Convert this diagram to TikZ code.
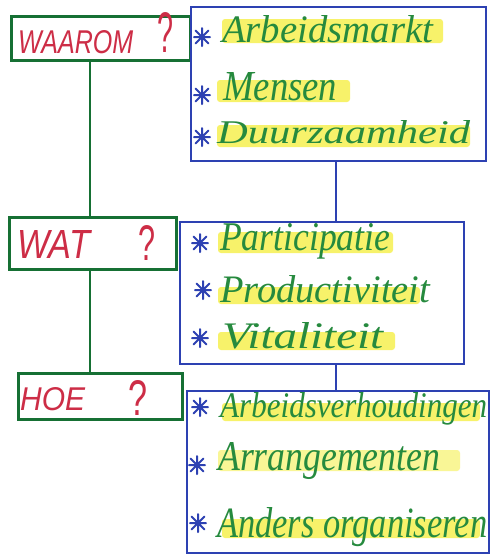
\documentclass[tikz,border=0pt]{standalone}
\usepackage{fontspec}
\setmainfont{Liberation Serif}
\newfontfamily\labfont{Liberation Sans}
\usepackage{graphicx}
\definecolor{pgreen}{RGB}{22,112,52}
\definecolor{tgreen}{RGB}{38,138,62}
\definecolor{pred}{RGB}{205,45,70}
\definecolor{pblue}{RGB}{45,65,178}
\definecolor{hlyel}{RGB}{246,240,80}
\newcommand{\fitw}[3]{\resizebox{#1pt}{#2pt}{#3}}
\tikzset{
  qbox/.style={draw=pgreen, line width=3pt, rectangle, inner sep=0pt},
  ibox/.style={draw=pblue, line width=1.5pt, rectangle, inner sep=0pt},
  lbl/.style={text=pred, inner sep=0pt, font=\labfont\itshape},
  qm/.style={text=pred, inner sep=0pt, font=\labfont},
  item/.style={text=tgreen, inner sep=0pt, font=\itshape},
  hl/.style={fill=hlyel, opacity=0.85, rounded corners=3pt},
  gline/.style={draw=pgreen, line width=2.6pt},
  bline/.style={draw=pblue, line width=1.5pt},
  ast/.pic={\draw[pblue, line width=2pt, line cap=round] (0,-9)--(0,9) (-8,0)--(8,0) (-6.5,-6.5)--(6.5,6.5) (-6.5,6.5)--(6.5,-6.5);}
}
\begin{document}
\begin{tikzpicture}[x=1pt,y=-1pt]
\fill[white] (0,0) rectangle (492,560);
\useasboundingbox (0,0) rectangle (492,560);

% question boxes
\node[qbox, anchor=north west, minimum width=179pt, minimum height=44pt] (waarom) at (10,15) {};
\node[qbox, anchor=north west, minimum width=167pt, minimum height=52pt] (wat) at (8,216) {};
\node[qbox, anchor=north west, minimum width=164pt, minimum height=46pt] (hoe) at (17,372) {};

% item boxes
\node[ibox, anchor=north west, minimum width=295pt, minimum height=154pt] (b1) at (190,6) {};
\node[ibox, anchor=north west, minimum width=284pt, minimum height=142pt] (b2) at (179,221) {};
\node[ibox, anchor=north west, minimum width=302pt, minimum height=162pt] (b3) at (186,390) {};

% connectors
\coordinate (gx) at (90,0);
\coordinate (bx) at (336,0);
\draw[gline] (waarom.south -| gx) -- (wat.north -| gx);
\draw[gline] (wat.south -| gx) -- (hoe.north -| gx);
\draw[bline] (b1.south -| bx) -- (b2.north -| bx);
\draw[bline] (b2.south -| bx) -- (b3.north -| bx);

% labels
\node[lbl, anchor=base west] (l1) at (18,53) {\fitw{115}{23}{WAAROM}};
\node[qm, anchor=base west] (q1) at (157,52) {\fitw{16}{40}{?}};
\node[lbl, anchor=base west] (l2) at (17,258) {\fitw{73}{28}{WAT}};
\node[qm, anchor=base west] (q2) at (138,260) {\fitw{17}{35}{?}};
\node[lbl, anchor=base west] (l3) at (20,410) {\fitw{65}{23}{HOE}};
\node[qm, anchor=base west] (q3) at (128,415) {\fitw{19}{35}{?}};

% highlights
\fill[hl] (222,19) rectangle (443,43);
\fill[hl] (217,80) rectangle (350,102);
\fill[hl] (217,125) rectangle (470,147);
\fill[hl] (218,232) rectangle (393,253);
\fill[hl] (218,287) rectangle (420,304);
\fill[hl] (218,332) rectangle (395,350);
\fill[hl] (222,403) rectangle (480,421);
\fill[hl, opacity=0.6] (218,450) rectangle (460,471);
\fill[hl] (222,519) rectangle (480,538);

% items
\node[item, anchor=base west] (t1) at (222,42) {\fitw{211}{27}{Arbeidsmarkt}};
\node[item, anchor=base west] (t2) at (223,100) {\fitw{114}{28}{Mensen}};
\node[item, anchor=base west] (t3) at (217,143) {\fitw{253}{23}{Duurzaamheid}};
\node[item, anchor=base west] (t4) at (220,250) {\fitw{170}{27}{Participatie}};
\node[item, anchor=base west] (t5) at (220,302) {\fitw{210}{27}{Productiviteit}};
\node[item, anchor=base west] (t6) at (222,348) {\fitw{161}{26}{Vitaliteit}};
\node[item, anchor=base west] (t7) at (220,417) {\fitw{267}{25}{Arbeidsverhoudingen}};
\node[item, anchor=base west] (t8) at (218,470) {\fitw{222}{28}{Arrangementen}};
\node[item, anchor=base west] (t9) at (217,537) {\fitw{270}{30}{Anders organiseren}};

% stars
\pic (s1) at (202,37) {ast};
\pic (s2) at (202,95) {ast};
\pic (s3) at (202,137) {ast};
\pic (s4) at (200,243) {ast};
\pic (s5) at (203,290) {ast};
\pic (s6) at (200,338) {ast};
\pic (s7) at (200,407) {ast};
\pic (s8) at (197,465) {ast};
\pic (s9) at (198,523) {ast};
\end{tikzpicture}
\end{document}
